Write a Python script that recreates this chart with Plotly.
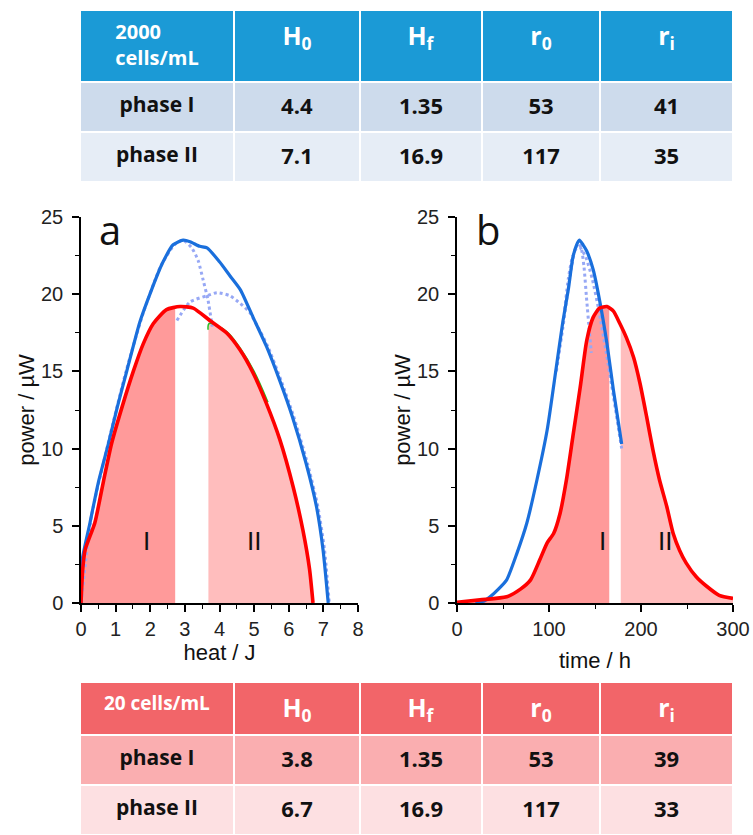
import plotly.graph_objects as go
import numpy as np

W, H = 753, 835

# ---------------- table data ----------------
col_heads = ["H<sub>0</sub>", "H<sub>f</sub>", "r<sub>0</sub>", "r<sub>i</sub>"]
phase_names = ["phase I", "phase II"]

top_label = "2000<br>cells/mL"
top_H0 = ["4.4", "7.1"]
top_Hf = ["1.35", "16.9"]
top_r0 = ["53", "117"]
top_ri = ["41", "35"]

bot_label = "20 cells/mL"
bot_H0 = ["3.8", "6.7"]
bot_Hf = ["1.35", "16.9"]
bot_r0 = ["53", "117"]
bot_ri = ["39", "33"]

# ---------------- panel a: power vs heat ----------------
a_red_x = [0, 0.05, 0.12, 0.4, 0.65, 0.88, 1.2, 1.51, 1.8, 2.09, 2.47, 2.86, 3.24, 3.72,
           4.2, 4.59, 4.97, 5.36, 5.74, 6.13, 6.41, 6.6, 6.7]
a_red_y = [0, 2.2, 3.45, 5.2, 7.9, 10.3, 12.8, 15.0, 16.8, 18.1, 19.0, 19.2, 19.1, 18.3,
           17.5, 16.4, 14.9, 12.9, 10.6, 7.5, 4.7, 2.2, 0]

a_blue_x = [0, 0.02, 0.26, 0.5, 0.79, 1.05, 1.32, 1.7, 2.04, 2.35, 2.66, 2.95, 3.15, 3.43,
            3.64, 4.0, 4.3, 4.6, 4.97, 5.36, 5.74, 6.1, 6.5, 6.8, 6.99, 7.14]
a_blue_y = [0, 2.6, 5.2, 7.8, 10.3, 12.7, 15.0, 18.2, 20.3, 22.0, 23.2, 23.5, 23.4, 23.1,
            23.0, 22.1, 21.2, 20.3, 18.5, 16.6, 14.4, 12.1, 9.05, 6.25, 3.45, 0]

a_fit1_x = [0, 0.3, 0.8, 1.3, 1.8, 2.3, 2.7, 2.95, 3.2, 3.38, 3.53, 3.67, 3.79]
a_fit1_y = [0, 5.6, 10.5, 15.0, 18.8, 21.8, 23.2, 23.5, 23.0, 22.2, 20.9, 19.6, 17.9]

a_fit2_x = [2.77, 3.15, 3.64, 3.93, 4.3, 4.6, 4.88, 5.1, 5.4, 5.78, 6.14, 6.54, 6.84, 7.03, 7.17]
a_fit2_y = [18.3, 19.5, 19.9, 20.1, 19.9, 19.4, 18.8, 17.9, 16.6, 14.4, 12.1, 9.05, 6.25, 3.5, 0]

a_green_x = [3.67, 3.7, 4.2, 4.6, 5.0, 5.4]
a_green_y = [17.7, 18.1, 17.6, 16.5, 15.0, 13.0]

a_phase1_end = 2.72
a_phase2_start = 3.68

# ---------------- panel b: power vs time ----------------
b_red_x = [0, 25, 54, 69, 80, 90, 98, 105, 112, 119, 126, 134, 141, 148, 155, 163, 170, 177,
           184, 192, 199, 206, 213, 220, 228, 235, 242, 249, 260, 271, 285, 300]
b_red_y = [0.05, 0.2, 0.4, 0.9, 1.5, 2.8, 3.9, 4.5, 5.8, 8.0, 10.8, 14.0, 17.0, 18.5, 19.1,
           19.2, 18.9, 18.1, 17.2, 15.9, 14.2, 12.1, 9.9, 8.0, 6.25, 4.5, 3.4, 2.6, 1.7, 1.1,
           0.5, 0.3]

b_blue_x = [20, 30, 36, 45, 54, 65, 76, 87, 98, 108, 115, 121, 126, 130, 133, 137, 141, 148,
            155, 163, 170, 179]
b_blue_y = [0, 0.15, 0.4, 0.9, 1.5, 3.2, 5.2, 8.0, 11.2, 15.3, 18.2, 20.3, 22.4, 23.2, 23.5,
            23.2, 22.8, 21.6, 19.6, 16.8, 13.8, 10.3]

b_fit1_x = [108, 115, 120, 124, 128, 132, 135, 138, 141, 144, 146]
b_fit1_y = [15.0, 17.8, 20.0, 21.6, 22.8, 23.3, 23.0, 21.8, 19.6, 17.5, 16.2]

b_fit2_x = [117, 121, 125, 130, 134, 140, 147, 154, 162, 170, 179]
b_fit2_y = [19.0, 21.0, 22.3, 23.0, 23.0, 22.4, 21.0, 19.0, 16.3, 13.4, 10.0]

b_phase1_end = 165.5
b_phase2_start = 178

# ---------------- styles ----------------
RED = "#ff0000"
BLUE = "#1a6fdc"
DOT = "#97a8f5"
FILL1 = "#ff9a9a"
FILL2 = "#ffbdbd"
TOP_HEAD = "#1b9ad6"
TOP_ROWS = ["#cddbec", "#e6edf6"]
BOT_HEAD = "#f26569"
BOT_ROWS = ["#faaeb0", "#fde0e2"]
TICKFONT = dict(family="Liberation Sans, Arial", size=20, color="#222")
TITLEFONT = dict(family="Liberation Sans, Arial", size=22, color="#111")
TABFONT = "Open Sans, Lato, sans-serif"


def segment(xs, ys, lo, hi):
    xs = np.asarray(xs, float)
    ys = np.asarray(ys, float)
    keep = (xs >= lo) & (xs <= hi)
    sx = list(xs[keep])
    sy = list(ys[keep])
    if lo > xs[0]:
        sx = [lo] + sx
        sy = [float(np.interp(lo, xs, ys))] + sy
    if hi < xs[-1]:
        sx = sx + [hi]
        sy = sy + [float(np.interp(hi, xs, ys))]
    return sx, sy


fig = go.Figure()


def add_panel(xa, ya, red_x, red_y, blue_x, blue_y, fits, p1_end, p2_start, green=None):
    fx, fy = segment(red_x, red_y, red_x[0], p1_end)
    fig.add_trace(go.Scatter(x=fx, y=fy, mode="lines", fill="tozeroy", fillcolor=FILL1,
                             line=dict(width=0, shape="spline", smoothing=0.6),
                             xaxis=xa, yaxis=ya, hoverinfo="skip"))
    fx, fy = segment(red_x, red_y, p2_start, red_x[-1])
    fig.add_trace(go.Scatter(x=fx, y=fy, mode="lines", fill="tozeroy", fillcolor=FILL2,
                             line=dict(width=0, shape="spline", smoothing=0.6),
                             xaxis=xa, yaxis=ya, hoverinfo="skip"))
    for fxs, fys in fits:
        fig.add_trace(go.Scatter(x=fxs, y=fys, mode="lines",
                                 line=dict(color=DOT, width=3, dash="dot", shape="spline", smoothing=0.6),
                                 xaxis=xa, yaxis=ya))
    fig.add_trace(go.Scatter(x=blue_x, y=blue_y, mode="lines",
                             line=dict(color=BLUE, width=3.2, shape="spline", smoothing=0.6),
                             xaxis=xa, yaxis=ya))
    if green is not None:
        fig.add_trace(go.Scatter(x=green[0], y=green[1], mode="lines",
                                 line=dict(color="#22c022", width=1.5, shape="spline"),
                                 xaxis=xa, yaxis=ya))
    fig.add_trace(go.Scatter(x=red_x, y=red_y, mode="lines",
                             line=dict(color=RED, width=3.6, shape="spline", smoothing=0.6),
                             xaxis=xa, yaxis=ya))


add_panel("x", "y", a_red_x, a_red_y, a_blue_x, a_blue_y,
          [(a_fit1_x, a_fit1_y), (a_fit2_x, a_fit2_y)], a_phase1_end, a_phase2_start,
          green=(a_green_x, a_green_y))
add_panel("x2", "y2", b_red_x, b_red_y, b_blue_x, b_blue_y,
          [(b_fit1_x, b_fit1_y), (b_fit2_x, b_fit2_y)], b_phase1_end, b_phase2_start)

# ---------------- tables ----------------
colw = [154, 126, 122, 118, 133]


def bold(v):
    return ["<b>%s</b>" % s for s in v]


fig.add_trace(go.Table(
    domain=dict(x=[80 / W, 733 / W], y=[1 - 195 / H, 1 - 10 / H]),
    columnwidth=colw,
    header=dict(values=bold([top_label] + col_heads),
                fill_color=TOP_HEAD, line=dict(color="white", width=2), height=72,
                align="center",
                font=dict(family=TABFONT, color="white", size=[20, 25, 25, 25, 25])),
    cells=dict(values=[bold(phase_names), bold(top_H0), bold(top_Hf), bold(top_r0), bold(top_ri)],
               fill_color=[TOP_ROWS] * 5, line=dict(color="white", width=2), height=50,
               align="center", font=dict(family=TABFONT, color="#111", size=[21, 22, 22, 22, 22])),
))

fig.add_trace(go.Table(
    domain=dict(x=[80 / W, 733 / W], y=[0, 1 - 682 / H]),
    columnwidth=colw,
    header=dict(values=bold([bot_label] + col_heads),
                fill_color=BOT_HEAD, line=dict(color="white", width=2), height=52,
                align="center",
                font=dict(family=TABFONT, color="white", size=[19, 25, 25, 25, 25])),
    cells=dict(values=[bold(phase_names), bold(bot_H0), bold(bot_Hf), bold(bot_r0), bold(bot_ri)],
               fill_color=[BOT_ROWS] * 5, line=dict(color="white", width=2), height=50,
               align="center", font=dict(family=TABFONT, color="#111", size=[21, 22, 22, 22, 22])),
))

# ---------------- annotations ----------------
ann = []
labels = [("x", "y", 1.9, 4.0, "I"), ("x", "y", 5.0, 4.0, "II"),
          ("x2", "y2", 158, 4.0, "I"), ("x2", "y2", 226, 4.0, "II")]
for xr, yr, xv, yv, t in labels:
    ann.append(dict(xref=xr, yref=yr, x=xv, y=yv, text=t, showarrow=False,
                    font=dict(family="Liberation Sans, Arial", size=26, color="#111")))
ann.append(dict(xref="x", yref="y", x=0.85, y=24.2, text="a", showarrow=False,
                font=dict(family="Open Sans, sans-serif", size=40, color="#111")))
ann.append(dict(xref="x2", yref="y2", x=34, y=24.2, text="b", showarrow=False,
                font=dict(family="Open Sans, sans-serif", size=40, color="#111")))

axis_common = dict(showline=True, linecolor="black", linewidth=1.5, ticks="outside",
                   ticklen=7, tickwidth=1.5, tickcolor="black", showgrid=False,
                   zeroline=False, tickfont=TICKFONT, title_font=TITLEFONT,
                   automargin=False)

fig.update_layout(
    width=W, height=H, margin=dict(l=0, r=0, t=0, b=0, autoexpand=False),
    paper_bgcolor="white", plot_bgcolor="white", showlegend=False,
    annotations=ann,
    xaxis=dict(domain=[81 / W, 358 / W], range=[0, 8], dtick=1, anchor="y",
               minor=dict(ticks="outside", dtick=0.5, ticklen=4, tickwidth=1.2, tickcolor="black"),
               title=dict(text="heat / J", standoff=6), **axis_common),
    yaxis=dict(domain=[1 - 603 / H, 1 - 217 / H], range=[0, 25], dtick=5, anchor="x",
               minor=dict(ticks="outside", dtick=2.5, ticklen=4, tickwidth=1.2, tickcolor="black"),
               title=dict(text="power / µW", standoff=0), ticklabelstandoff=5, **axis_common),
    xaxis2=dict(domain=[457 / W, 733 / W], range=[0, 300], dtick=100, anchor="y2",
                minor=dict(ticks="outside", dtick=50, ticklen=4, tickwidth=1.2, tickcolor="black"),
                title=dict(text="time / h", standoff=14), **axis_common),
    yaxis2=dict(domain=[1 - 603 / H, 1 - 217 / H], range=[0, 25], dtick=5, anchor="x2",
                minor=dict(ticks="outside", dtick=2.5, ticklen=4, tickwidth=1.2, tickcolor="black"),
                title=dict(text="power / µW", standoff=0), ticklabelstandoff=5, **axis_common),
)

fig.write_html("out.html", config={"displayModeBar": False},
               post_script="document.body.style.margin='0';document.body.style.overflow='hidden';")
